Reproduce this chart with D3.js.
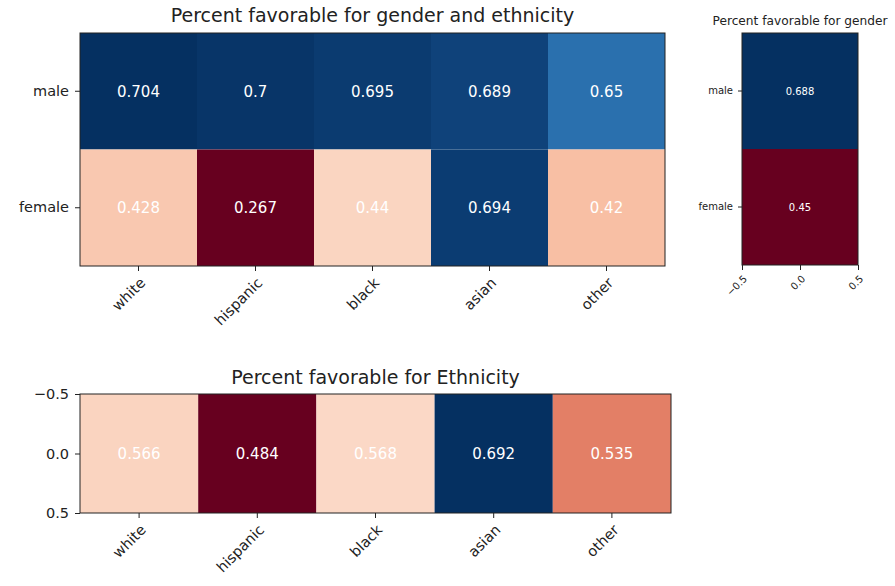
<!DOCTYPE html>
<html>
<head>
<meta charset="utf-8">
<script src="https://cdn.jsdelivr.net/npm/d3@7"></script>
<style>
  body { margin: 0; background: #fff; }
  text { font-family: "DejaVu Sans", sans-serif; }
</style>
</head>
<body>
<svg id="chart"></svg>
<script>
var ethnicities = ["white", "hispanic", "black", "asian", "other"];
var genders = ["male", "female"];
var maleValues = [0.704, 0.7, 0.695, 0.689, 0.65];
var femaleValues = [0.428, 0.267, 0.44, 0.694, 0.42];
var genderValues = [0.688, 0.45];
var ethnicityValues = [0.566, 0.484, 0.568, 0.692, 0.535];
var centerTicks = [-0.5, 0.0, 0.5];

var width = 895, height = 586;
var ink = "#222";
var svg = d3.select("#chart").attr("width", width).attr("height", height);

function fmt(v) { return String(v).replace("-", "\u2212"); }

// x tick labels rotated 45deg about the anchor point (like rotation_mode="anchor")
function rotateLabels(axisG) {
    axisG.selectAll(".tick text")
        .attr("x", 0).attr("y", 0).attr("dy", "0.76em")
        .attr("text-anchor", "end")
        .attr("transform", "translate(0,10) rotate(-45)");
}

function styleAxis(axisG, size) {
    axisG.attr("font-family", "DejaVu Sans, sans-serif").attr("font-size", size);
    axisG.select(".domain").remove();
    axisG.selectAll(".tick line").attr("stroke", ink);
    axisG.selectAll(".tick text").attr("fill", ink);
}

// cells: [{row, col, value}]
function drawCells(g, cells, xScale, yScale, color, fontSize) {
    g.selectAll("rect.cell")
        .data(cells)
        .enter().append("rect")
        .attr("class", "cell")
        .attr("x", function (d) { return xScale(d.col); })
        .attr("y", function (d) { return yScale(d.row); })
        .attr("width", xScale.bandwidth())
        .attr("height", yScale.bandwidth())
        .attr("fill", function (d) { return color(d.value); });

    g.selectAll("text.val")
        .data(cells)
        .enter().append("text")
        .attr("class", "val")
        .attr("x", function (d) { return xScale(d.col) + xScale.bandwidth() / 2; })
        .attr("y", function (d) { return yScale(d.row) + yScale.bandwidth() / 2; })
        .attr("dy", "0.36em")
        .attr("text-anchor", "middle")
        .attr("fill", "#fff")
        .style("font-size", fontSize + "px")
        .text(function (d) { return d.value; });
}

function frame(g, w, h) {
    g.append("rect").attr("x", 0).attr("y", 0).attr("width", w).attr("height", h)
        .attr("fill", "none").attr("stroke", ink).attr("stroke-width", 1);
}

// ---- main heatmap: gender x ethnicity ----
(function () {
    var left = 80, top = 33, w = 585, h = 233;
    var g = svg.append("g").attr("transform", "translate(" + left + "," + top + ")");
    var x = d3.scaleBand().domain(ethnicities).range([0, w]);
    var y = d3.scaleBand().domain(genders).range([0, h]);
    var cells = [];
    ethnicities.forEach(function (e, i) {
        cells.push({row: "male", col: e, value: maleValues[i]});
        cells.push({row: "female", col: e, value: femaleValues[i]});
    });
    var color = d3.scaleSequential(d3.interpolateRdBu).domain(d3.extent(cells, function (d) { return d.value; }));
    drawCells(g, cells, x, y, color, 15);
    frame(g, w, h);

    var xa = g.append("g").attr("transform", "translate(0," + h + ")")
        .call(d3.axisBottom(x).tickSize(5).tickPadding(5));
    styleAxis(xa, 14.5);
    rotateLabels(xa);
    var ya = g.append("g").call(d3.axisLeft(y).tickSize(5).tickPadding(6));
    styleAxis(ya, 14.5);

    g.append("text").attr("x", w / 2).attr("y", -11)
        .attr("text-anchor", "middle").attr("fill", ink)
        .style("font-size", "19px")
        .text("Percent favorable for gender and ethnicity");
})();

// ---- gender only ----
(function () {
    var left = 742, top = 33, w = 116, h = 232;
    var g = svg.append("g").attr("transform", "translate(" + left + "," + top + ")");
    var x = d3.scaleBand().domain(["all"]).range([0, w]);
    var xLin = d3.scaleLinear().domain([-0.5, 0.5]).range([0, w]);
    var y = d3.scaleBand().domain(genders).range([0, h]);
    var cells = genders.map(function (gd, i) { return {row: gd, col: "all", value: genderValues[i]}; });
    var color = d3.scaleSequential(d3.interpolateRdBu).domain(d3.extent(genderValues));
    drawCells(g, cells, x, y, color, 10);
    frame(g, w, h);

    var xa = g.append("g").attr("transform", "translate(0," + h + ")")
        .call(d3.axisBottom(xLin).tickValues(centerTicks).tickFormat(function (d) { return fmt(d.toFixed(1)); }).tickSize(5));
    styleAxis(xa, 10);
    xa.selectAll(".tick text")
        .attr("x", 0).attr("y", 0).attr("dy", "0.76em")
        .attr("text-anchor", "end")
        .attr("transform", "translate(0,9) rotate(-45)");
    var ya = g.append("g").call(d3.axisLeft(y).tickSize(4).tickPadding(5));
    styleAxis(ya, 10);

    g.append("text").attr("x", w / 2).attr("y", -8)
        .attr("text-anchor", "middle").attr("fill", ink)
        .style("font-size", "12.2px")
        .text("Percent favorable for gender");
})();

// ---- ethnicity only ----
(function () {
    var left = 80, top = 394, w = 591, h = 119;
    var g = svg.append("g").attr("transform", "translate(" + left + "," + top + ")");
    var x = d3.scaleBand().domain(ethnicities).range([0, w]);
    var y = d3.scaleBand().domain(["all"]).range([0, h]);
    var yLin = d3.scaleLinear().domain([-0.5, 0.5]).range([0, h]);
    var cells = ethnicities.map(function (e, i) { return {row: "all", col: e, value: ethnicityValues[i]}; });
    var color = d3.scaleSequential(d3.interpolateRdBu).domain(d3.extent(ethnicityValues));
    drawCells(g, cells, x, y, color, 15);
    frame(g, w, h);

    var xa = g.append("g").attr("transform", "translate(0," + h + ")")
        .call(d3.axisBottom(x).tickSize(5).tickPadding(5));
    styleAxis(xa, 14.5);
    rotateLabels(xa);
    var ya = g.append("g")
        .call(d3.axisLeft(yLin).tickValues(centerTicks).tickFormat(function (d) { return fmt(d.toFixed(1)); }).tickSize(5).tickPadding(6));
    styleAxis(ya, 14.5);

    g.append("text").attr("x", w / 2).attr("y", -10)
        .attr("text-anchor", "middle").attr("fill", ink)
        .style("font-size", "19px")
        .text("Percent favorable for Ethnicity");
})();
</script>
</body>
</html>
